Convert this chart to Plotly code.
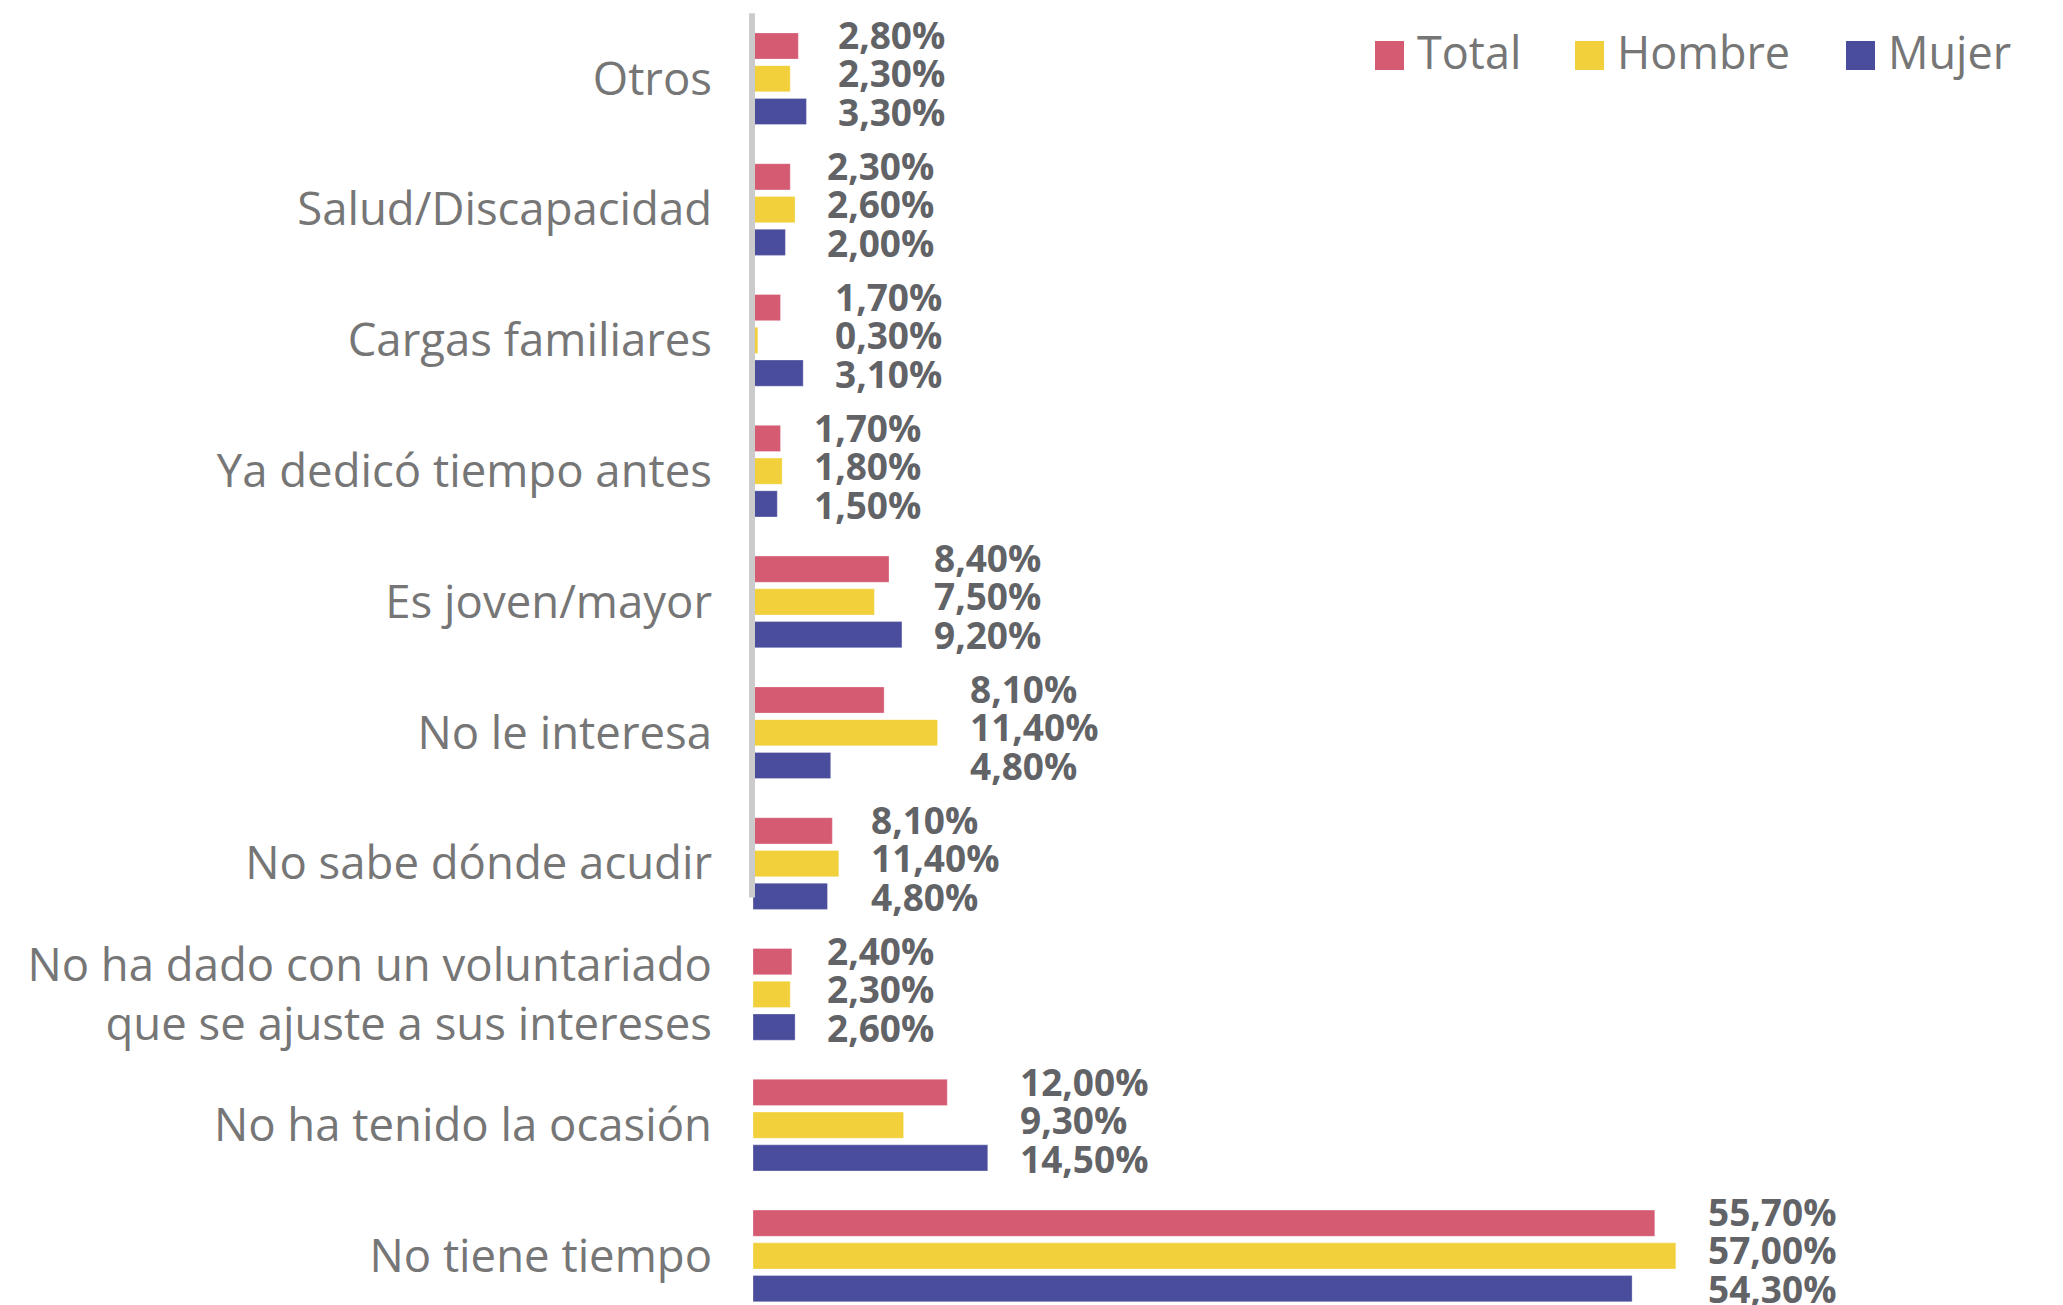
import plotly.graph_objects as go

# ---- data ----
categories = [
    "Otros",
    "Salud/Discapacidad",
    "Cargas familiares",
    "Ya dedicó tiempo antes",
    "Es joven/mayor",
    "No le interesa",
    "No sabe dónde acudir",
    "No ha dado con un voluntariado<br>que se ajuste a sus intereses",
    "No ha tenido la ocasión",
    "No tiene tiempo",
]
series_names = ["Total", "Hombre", "Mujer"]

# bar lengths as drawn (percent)
total_values = [2.8, 2.3, 1.7, 1.7, 8.4, 8.1, 4.9, 2.4, 12.0, 55.7]
hombre_values = [2.3, 2.6, 0.3, 1.8, 7.5, 11.4, 5.3, 2.3, 9.3, 57.0]
mujer_values = [3.3, 2.0, 3.1, 1.5, 9.2, 4.8, 4.6, 2.6, 14.5, 54.3]

# data labels as printed
total_labels = ["2,80%", "2,30%", "1,70%", "1,70%", "8,40%", "8,10%", "8,10%", "2,40%", "12,00%", "55,70%"]
hombre_labels = ["2,30%", "2,60%", "0,30%", "1,80%", "7,50%", "11,40%", "11,40%", "2,30%", "9,30%", "57,00%"]
mujer_labels = ["3,30%", "2,00%", "3,10%", "1,50%", "9,20%", "4,80%", "4,80%", "2,60%", "14,50%", "54,30%"]

# ---- style ----
colors = ["#d45b72", "#f2d03b", "#4a4c9c"]
FONT = "Open Sans"
W, H = 2063, 1305
ML = 753
values = [total_values, hombre_values, mujer_values]
labels = [total_labels, hombre_labels, mujer_labels]
label_yshift = [44, 6, -33]

fig = go.Figure()
for name, vals, col in zip(series_names, values, colors):
    fig.add_trace(go.Bar(
        y=categories, x=vals, name=name, orientation="h",
        marker=dict(color=col, line=dict(color="rgba(255,255,255,0.3)", width=1)),
        showlegend=False, hoverinfo="skip",
    ))

annotations = []
for i, cat in enumerate(categories):
    gmax = max(v[i] for v in values)
    for k in range(3):
        annotations.append(dict(
            x=gmax, y=cat, xref="x", yref="y",
            text="<b>" + labels[k][i] + "</b>",
            showarrow=False, xanchor="left", yanchor="middle",
            xshift=30, yshift=label_yshift[k],
            font=dict(family=FONT, size=37, color="#626367"),
        ))

# custom legend (large square keys)
def px2x(px):
    return (px - ML) / (W - ML)

def py2y(py):
    return 1 - py / H

legend_left = [1375, 1575, 1846]
shapes = []
for name, col, lx in zip(series_names, colors, legend_left):
    shapes.append(dict(type="rect", xref="paper", yref="paper",
                       x0=px2x(lx), x1=px2x(lx + 29), y0=py2y(70), y1=py2y(41),
                       fillcolor=col, line=dict(width=0)))
    annotations.append(dict(x=px2x(lx + 40), y=py2y(52), xref="paper", yref="paper",
                            text=name, showarrow=False, xanchor="left", yanchor="middle",
                            font=dict(family=FONT, size=45, color="#767676")))

# vertical axis line (paper x so it is not clipped at the plot edge)
shapes.append(dict(type="line", xref="paper", yref="y", x0=px2x(752), x1=px2x(752),
                   y0=-0.5, y1=6.26,
                   line=dict(color="#cbcbcb", width=6), layer="above"))

fig.update_layout(
    width=W, height=H,
    margin=dict(l=ML, r=0, t=0, b=0, pad=0),
    paper_bgcolor="white", plot_bgcolor="white",
    barmode="group", bargap=0.249, bargroupgap=0.2,
    font=dict(family=FONT),
    annotations=annotations, shapes=shapes,
    showlegend=False,
)
fig.update_xaxes(range=[0, (W - ML) / 16.19], visible=False, showgrid=False, zeroline=False)
fig.update_yaxes(
    type="category", categoryorder="array", categoryarray=categories,
    range=[9.375, -0.602], autorange=False,
    showgrid=False, zeroline=False, showline=False, ticks="",
    ticklabelstandoff=40,
    tickfont=dict(family=FONT, size=45.5, color="#767676"),
)

fig.write_html(
    "out.html",
    config={"displayModeBar": False, "staticPlot": True},
    post_script="document.body.style.margin='0';document.body.style.overflow='hidden';",
)
